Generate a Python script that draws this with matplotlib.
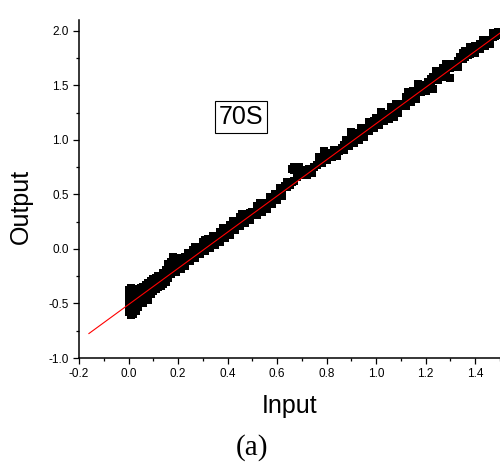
import matplotlib
matplotlib.use("Agg")
import matplotlib.pyplot as plt
from matplotlib.ticker import MultipleLocator
import numpy as np

# Data (Input, Output)
input_vals = [
    0.00, 0.00, 0.00, 0.00, 0.01, 0.01, 0.01, 0.01, 0.01, 0.02, 0.02, 0.02, 0.02, 0.03, 0.03, 0.03,
    0.04, 0.04, 0.04, 0.05, 0.05, 0.05, 0.06, 0.06, 0.06, 0.07, 0.07, 0.07, 0.08, 0.08, 0.08,
    0.09, 0.09, 0.10, 0.10, 0.11, 0.11, 0.12, 0.12, 0.13, 0.13, 0.14, 0.14, 0.15, 0.15, 0.16, 0.16,
    0.17, 0.17, 0.18, 0.18, 0.19, 0.19, 0.20, 0.21, 0.21, 0.22, 0.23, 0.23, 0.24, 0.24,
    0.25, 0.26, 0.26, 0.27, 0.28, 0.28, 0.29, 0.30, 0.30, 0.31, 0.32, 0.32, 0.33, 0.34, 0.34, 0.35,
    0.36, 0.37, 0.37, 0.38, 0.39, 0.39, 0.40, 0.41, 0.41, 0.42, 0.43, 0.43, 0.44, 0.45, 0.45, 0.46,
    0.47, 0.47, 0.48, 0.49, 0.50, 0.50,
    0.51, 0.52, 0.52, 0.53, 0.54, 0.55, 0.55, 0.56, 0.57, 0.57, 0.58, 0.59, 0.59, 0.60, 0.61, 0.62,
    0.62, 0.63, 0.64, 0.64,
    0.66, 0.67, 0.68, 0.69, 0.70, 0.71, 0.72, 0.73, 0.74, 0.75,
    0.76, 0.77, 0.77, 0.78, 0.79, 0.80, 0.80, 0.81, 0.82, 0.83, 0.84, 0.85,
    0.86, 0.87, 0.88, 0.88, 0.89, 0.90, 0.91, 0.91, 0.92, 0.93, 0.94, 0.95,
    0.96, 0.97, 0.97, 0.98, 0.99, 1.00, 1.00, 1.01, 1.02, 1.03, 1.04, 1.05, 1.06, 1.07, 1.08, 1.09, 1.10,
    1.11, 1.12, 1.12, 1.13, 1.14, 1.15, 1.15, 1.16, 1.17, 1.18, 1.18, 1.19, 1.20, 1.21, 1.22, 1.22,
    1.23, 1.23, 1.24, 1.25, 1.26, 1.27, 1.28, 1.29, 1.30, 1.30, 1.31, 1.32, 1.33, 1.34, 1.35, 1.35,
    1.36, 1.37, 1.38, 1.39, 1.40, 1.41, 1.42, 1.43, 1.44, 1.45, 1.46, 1.47, 1.48, 1.49,
    # lower / upper edge of the band
    0.04, 0.06, 0.08,
    0.09, 0.10, 0.11, 0.12, 0.13, 0.14, 0.15, 0.16,
    0.17, 0.19, 0.21, 0.23, 0.18, 0.20,
    0.25, 0.27, 0.29, 0.31, 0.33, 0.35, 0.27, 0.31,
    0.37, 0.39, 0.41, 0.43, 0.45, 0.47, 0.49, 0.38, 0.42, 0.46,
    0.52, 0.54, 0.56, 0.58, 0.60, 0.62, 0.53, 0.57, 0.61, 0.65, 0.66, 0.67,
    0.68, 0.70, 0.72, 0.74, 0.67, 0.69,
    0.78, 0.80, 0.82, 0.84, 0.79, 0.83,
    0.87, 0.89, 0.91, 0.93, 0.95, 0.90, 0.94,
    0.97, 0.99, 1.01, 1.03, 1.05, 1.07, 1.09, 1.02, 1.06, 1.08,
    1.12, 1.14, 1.16, 1.13, 1.17, 1.20, 1.25, 1.27, 1.24, 1.28, 1.33, 1.36, 1.38, 1.40,
    1.42, 1.44, 1.46, 1.43, 1.47, 1.49,
]
output_vals = [
    -0.38, -0.45, -0.52, -0.58, -0.36, -0.42, -0.50, -0.56, -0.61, -0.40, -0.47, -0.54, -0.60, -0.44, -0.52, -0.57,
    -0.37, -0.45, -0.50, -0.36, -0.42, -0.48, -0.35, -0.41, -0.46, -0.33, -0.39, -0.44, -0.31, -0.37, -0.42,
    -0.29, -0.35, -0.28, -0.33, -0.27, -0.32, -0.25, -0.30, -0.25, -0.29, -0.22, -0.27, -0.19, -0.25, -0.14, -0.21,
    -0.12, -0.17, -0.12, -0.16, -0.12, -0.15, -0.13, -0.12, -0.09, -0.10, -0.07, -0.11, -0.04, -0.09,
    -0.06, -0.05, -0.01, -0.03, -0.02, 0.02, 0.00, 0.02, 0.06, 0.03, 0.05, 0.09, 0.06, 0.08, 0.12, 0.10,
    0.10, 0.12, 0.16, 0.14, 0.15, 0.19, 0.17, 0.19, 0.22, 0.20, 0.22, 0.25, 0.24, 0.26, 0.29, 0.27,
    0.29, 0.32, 0.30, 0.33, 0.34, 0.31,
    0.34, 0.36, 0.39, 0.37, 0.39, 0.41, 0.38, 0.42, 0.45, 0.42, 0.46, 0.47, 0.50, 0.49, 0.52, 0.53,
    0.56, 0.58, 0.57, 0.61,
    0.73, 0.72, 0.70, 0.71, 0.72, 0.70, 0.71, 0.73, 0.72, 0.75,
    0.77, 0.80, 0.84, 0.83, 0.86, 0.85, 0.88, 0.87, 0.88, 0.87, 0.89, 0.90,
    0.93, 0.95, 0.97, 1.00, 0.99, 1.02, 1.01, 1.05, 1.04, 1.06, 1.05, 1.08,
    1.10, 1.13, 1.16, 1.14, 1.17, 1.16, 1.20, 1.19, 1.22, 1.21, 1.24, 1.23, 1.26, 1.25, 1.27, 1.30, 1.33,
    1.33, 1.36, 1.39, 1.38, 1.40, 1.42, 1.45, 1.43, 1.46, 1.48, 1.44, 1.47, 1.50, 1.53, 1.56, 1.52,
    1.58, 1.47, 1.57, 1.60, 1.62, 1.66, 1.64, 1.67, 1.57, 1.66, 1.70, 1.68, 1.72, 1.76, 1.80, 1.74,
    1.82, 1.78, 1.79, 1.82, 1.80, 1.85, 1.88, 1.87, 1.90, 1.91, 1.92, 1.94, 1.95, 1.96,
    # lower / upper edge of the band
    -0.53, -0.50, -0.47,
    -0.41, -0.39, -0.37, -0.35, -0.34, -0.32, -0.30, -0.27,
    -0.23, -0.21, -0.18, -0.16, -0.07, -0.08,
    -0.11, -0.08, -0.05, -0.02, 0.01, 0.04, 0.02, 0.08,
    0.06, 0.10, 0.13, 0.17, 0.21, 0.24, 0.27, 0.19, 0.26, 0.32,
    0.31, 0.34, 0.37, 0.41, 0.45, 0.49, 0.42, 0.48, 0.56, 0.59, 0.61, 0.62,
    0.66, 0.68, 0.68, 0.70, 0.75, 0.75,
    0.79, 0.82, 0.84, 0.85, 0.90, 0.91,
    0.91, 0.94, 0.97, 1.00, 1.03, 1.07, 1.11,
    1.08, 1.11, 1.14, 1.17, 1.19, 1.21, 1.25, 1.26, 1.30, 1.33,
    1.31, 1.35, 1.38, 1.44, 1.51, 1.45, 1.55, 1.58, 1.63, 1.70, 1.67, 1.76, 1.85, 1.86,
    1.83, 1.86, 1.88, 1.92, 1.98, 1.99,
]

# Linear fit
fit_slope = 1.66
fit_intercept = -0.51
fit_x_range = [-0.16, 1.5]

x_ticks = [-0.2, 0.0, 0.2, 0.4, 0.6, 0.8, 1.0, 1.2, 1.4]
y_ticks = [-1.0, -0.5, 0.0, 0.5, 1.0, 1.5, 2.0]

fig = plt.figure(figsize=(5.0, 4.65), dpi=100)
ax = fig.add_axes([79 / 500, 107 / 465, 421 / 500, 338 / 465])

ax.plot(input_vals, output_vals, linestyle="none", marker="s", markersize=5.3,
        markerfacecolor="black", markeredgewidth=0, color="black", zorder=2,
        clip_on=False)
fx = np.array(fit_x_range)
ax.plot(fx, fit_intercept + fit_slope * fx, color="red", linewidth=0.8, zorder=3)

ax.set_xlim(-0.2, 1.5)
ax.set_ylim(-1.0, 2.1)
ax.set_xticks(x_ticks)
ax.set_yticks(y_ticks)
ax.set_xticklabels([f"{v:.1f}" for v in x_ticks])
ax.set_yticklabels([f"{v:.1f}" for v in y_ticks])
ax.xaxis.set_minor_locator(MultipleLocator(0.1))
ax.yaxis.set_minor_locator(MultipleLocator(0.25))

for s in ["top", "right"]:
    ax.spines[s].set_visible(False)
for s in ["left", "bottom"]:
    ax.spines[s].set_linewidth(1.1)

ax.tick_params(which="major", direction="out", length=4.5, width=0.9,
               labelsize=8.5, pad=3.0)
ax.tick_params(which="minor", direction="out", length=2.5, width=0.9)
for lab in ax.get_xticklabels() + ax.get_yticklabels():
    lab.set_fontfamily("Liberation Sans")

ax.set_xlabel("Input", fontsize=18, fontfamily="Liberation Sans")
ax.set_ylabel("Output", fontsize=18, fontfamily="Liberation Sans")
ax.xaxis.set_label_coords(0.501, -0.107)
ax.yaxis.set_label_coords(-0.11, 0.447)

ax.text(0.453, 1.21, "70S", fontsize=18, fontfamily="Liberation Sans",
        ha="center", va="center",
        bbox=dict(boxstyle="square,pad=0.15", facecolor="white",
                  edgecolor="black", linewidth=0.8))

fig.text(252 / 500, 1 - 448 / 465, "(a)", fontsize=21,
         fontfamily="Liberation Serif", ha="center", va="center")

fig.savefig("out.png", dpi=100)
